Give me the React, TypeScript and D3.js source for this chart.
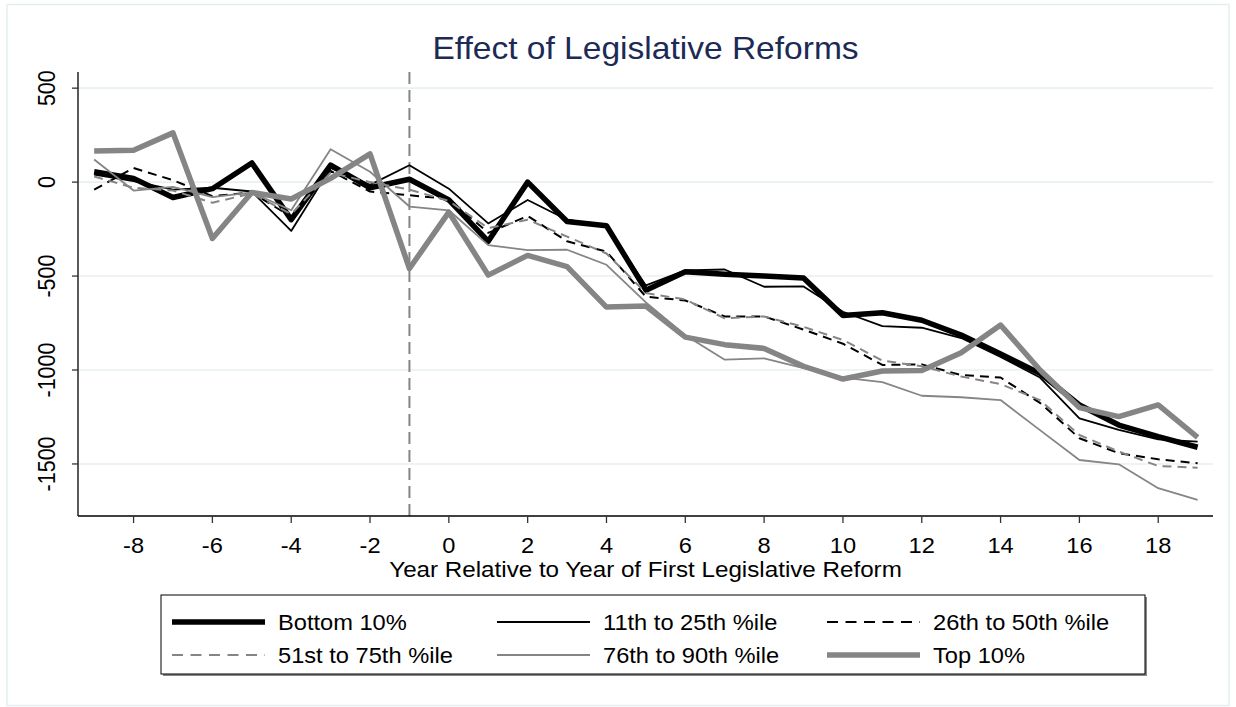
import React from 'react';
import * as d3 from 'd3';

const years = [-9, -8, -7, -6, -5, -4, -3, -2, -1, 0, 1, 2, 3, 4, 5, 6, 7, 8, 9, 10, 11, 12, 13, 14, 15, 16, 17, 18, 19];

const bottom10 = [55, 20, -82, -35, 102, -200, 90, -30, 15, -95, -315, 0, -210, -232, -575, -477, -490, -500, -510, -710, -695, -735, -814, -915, -1018, -1186, -1293, -1355, -1411];
const p11to25 = [40, 5, -40, -30, -50, -260, 75, -15, 90, -35, -220, -95, -200, -235, -550, -470, -465, -557, -555, -690, -766, -775, -830, -930, -1040, -1257, -1319, -1369, -1381];
const p26to50 = [-40, 75, 10, -75, -55, -185, 60, -50, -70, -90, -270, -180, -315, -370, -610, -630, -715, -715, -785, -860, -973, -970, -1027, -1040, -1175, -1363, -1443, -1475, -1496];
const p51to75 = [30, -30, -45, -110, -60, -170, 50, 0, -40, -100, -245, -200, -290, -380, -590, -625, -725, -715, -770, -840, -950, -980, -1035, -1075, -1160, -1346, -1434, -1511, -1520];
const p76to90 = [120, -45, -25, -80, -55, -150, 175, 55, -130, -150, -335, -362, -360, -440, -640, -815, -945, -938, -990, -1040, -1065, -1137, -1145, -1160, -1320, -1479, -1502, -1629, -1691];
const top10 = [165, 170, 262, -300, -55, -90, 20, 150, -460, -160, -495, -390, -450, -665, -660, -825, -865, -885, -980, -1048, -1005, -1003, -908, -761, -1000, -1200, -1248, -1186, -1358];

const seriesNames = ['Bottom 10%', '11th to 25th %ile', '26th to 50th %ile', '51st to 75th %ile', '76th to 90th %ile', 'Top 10%'];
const seriesValues = [bottom10, p11to25, p26to50, p51to75, p76to90, top10];

const xTicks = [-8, -6, -4, -2, 0, 2, 4, 6, 8, 10, 12, 14, 16, 18];
const yTicks = [500, 0, -500, -1000, -1500];
const reformYear = -1;

const titleText = 'Effect of Legislative Reforms';
const xAxisTitle = 'Year Relative to Year of First Legislative Reform';

const GRAY = '#858585';
const styles = [
  { color: '#000', width: 5.5, dash: null },
  { color: '#000', width: 1.8, dash: null },
  { color: '#000', width: 2, dash: '9,6' },
  { color: GRAY, width: 2, dash: '9,6' },
  { color: GRAY, width: 1.8, dash: null },
  { color: GRAY, width: 5.5, dash: null },
];

const FONT = '"Liberation Sans", Arial, Helvetica, sans-serif';
const SX = 1.1;

export default function App() {
  const W = 1236;
  const H = 707;
  const left = 78, right = 1213, top = 72, bottom = 516;
  const x = d3.scaleLinear().domain([-9.41, 19.39]).range([left, right]);
  const y = d3.scaleLinear().domain([586, -1777]).range([top, bottom]);

  const line = d3
    .line<[number, number]>()
    .x((d) => x(d[0]))
    .y((d) => y(d[1]))
    .curve(d3.curveLinear);

  const legendCols = [172, 497, 827];
  const legendRows = [622, 655];
  const sampleLen = 93;

  return (
    <svg
      width={W}
      height={H}
      style={{ position: 'absolute', left: 0, top: 0, background: '#fff' }}
      fontFamily={FONT}
    >
      <rect x={0} y={0} width={W} height={H} fill="#fff" />
      <rect x={7} y={4.5} width={1222} height={701} fill="none" stroke="#e4eef0" strokeWidth={1.5} />

      {/* gridlines */}
      {yTicks.map((t) => (
        <line key={'g' + t} x1={left} x2={right} y1={y(t)} y2={y(t)} stroke="#e8f0f2" strokeWidth={1.6} />
      ))}

      {/* vertical reference line */}
      <line
        x1={x(reformYear)}
        x2={x(reformYear)}
        y1={top}
        y2={bottom}
        stroke={GRAY}
        strokeWidth={2}
        strokeDasharray="12,6"
      />

      {/* series */}
      {seriesValues.map((vals, i) => (
        <path
          key={'s' + i}
          d={line(years.map((yr, j) => [yr, vals[j]] as [number, number])) || ''}
          fill="none"
          stroke={styles[i].color}
          strokeWidth={styles[i].width}
          strokeDasharray={styles[i].dash || undefined}
          strokeLinejoin="round"
          strokeLinecap="butt"
        />
      ))}

      {/* axes */}
      <line x1={left} x2={left} y1={top} y2={bottom} stroke="#000" strokeWidth={1.3} />
      <line x1={left} x2={right} y1={bottom} y2={bottom} stroke="#000" strokeWidth={1.3} />
      {yTicks.map((t) => (
        <g key={'yt' + t}>
          <line x1={left - 6} x2={left} y1={y(t)} y2={y(t)} stroke="#333" strokeWidth={1.3} />
          <text
            transform={`translate(55,${y(t)}) rotate(-90) scale(1,${SX})`}
            textAnchor="middle"
            fontSize={21.5}
            fill="#000"
          >
            {t}
          </text>
        </g>
      ))}
      {xTicks.map((t) => (
        <g key={'xt' + t}>
          <line x1={x(t)} x2={x(t)} y1={bottom} y2={bottom + 7} stroke="#333" strokeWidth={1.3} />
          <text
            transform={`translate(${x(t)},553) scale(${SX},1)`}
            textAnchor="middle"
            fontSize={21.5}
            fill="#000"
          >
            {t}
          </text>
        </g>
      ))}
      <text
        transform={`translate(${(left + right) / 2},577) scale(${SX},1)`}
        textAnchor="middle"
        fontSize={22}
        fill="#000"
      >
        {xAxisTitle}
      </text>

      {/* title */}
      <text
        transform={`translate(${(left + right) / 2},59) scale(${SX},1)`}
        textAnchor="middle"
        fontSize={30.5}
        fill="#1c2a55"
      >
        {titleText}
      </text>

      {/* legend */}
      <rect x={163} y={597} width={984} height={79} fill="#888" />
      <rect x={161} y={595} width={984} height={79} fill="#fff" stroke="#000" strokeWidth={1} />
      {seriesNames.map((name, i) => {
        const col = i % 3;
        const row = Math.floor(i / 3);
        const lx = legendCols[col];
        const ly = legendRows[row];
        return (
          <g key={'l' + i}>
            <line
              x1={lx}
              x2={lx + sampleLen}
              y1={ly}
              y2={ly}
              stroke={styles[i].color}
              strokeWidth={styles[i].width}
              strokeDasharray={styles[i].dash ? '11,7.5' : undefined}
            />
            <text transform={`translate(${lx + 106},${ly + 7.5}) scale(${SX},1)`} fontSize={21.5} fill="#000">
              {name}
            </text>
          </g>
        );
      })}
    </svg>
  );
}
